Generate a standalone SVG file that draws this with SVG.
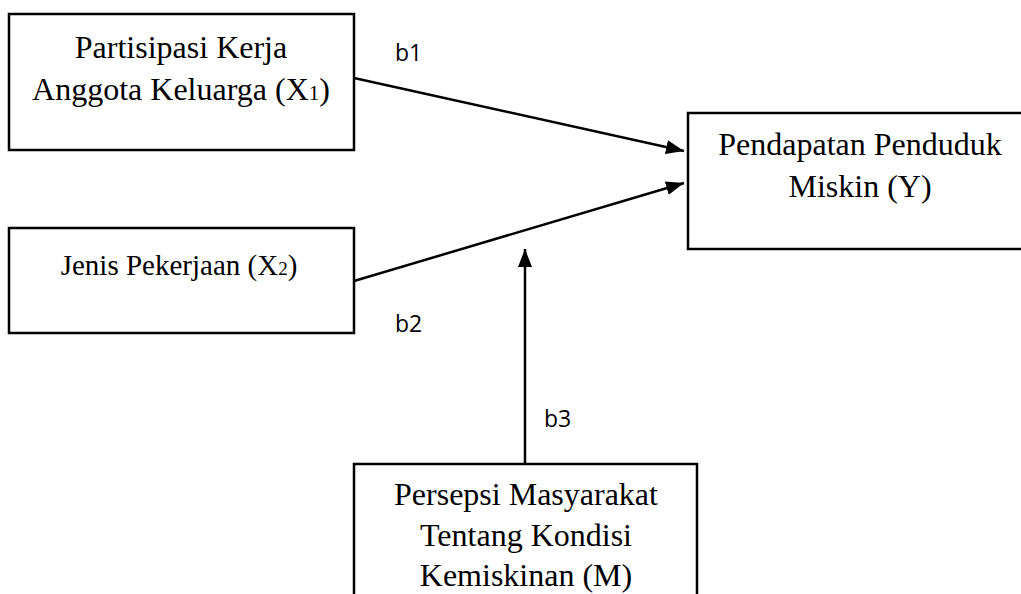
<svg xmlns="http://www.w3.org/2000/svg" width="1021" height="594" viewBox="0 0 1021 594">
<style>
.box{fill:#fff;stroke:#000;stroke-width:2.5}
.t{font-family:"Liberation Serif","Times New Roman",serif;font-size:32px;fill:#000;text-anchor:middle}
.t2{font-family:"Liberation Serif","Times New Roman",serif;font-size:29px;fill:#000;text-anchor:middle}
.lab{font-family:"Open Sans","DejaVu Sans",sans-serif;font-size:23px;fill:#000}
.c{stroke:#000;stroke-width:2.5;fill:none}
</style>
<defs>
<marker id="ah" markerWidth="18" markerHeight="14" refX="18" refY="7" orient="auto" markerUnits="userSpaceOnUse" viewBox="0 0 18 14">
<path d="M0,0 L18,7 L0,14 Z" fill="#000"/>
</marker>
</defs>
<g id="connectors">
<line class="c" x1="354" y1="78" x2="684" y2="151" marker-end="url(#ah)"/>
<line class="c" x1="354" y1="281" x2="684" y2="183" marker-end="url(#ah)"/>
<line class="c" x1="525" y1="464" x2="525" y2="249" marker-end="url(#ah)"/>
</g>
<g id="x1">
<rect class="box" x="9" y="14" width="345" height="136"/>
<text class="t" x="181" y="58">Partisipasi Kerja</text>
<text class="t" x="181" y="100">Anggota Keluarga (X<tspan font-size="21">1</tspan>)</text>
</g>
<g id="x2">
<rect class="box" x="9" y="228" width="345" height="105"/>
<text class="t2" x="179" y="275">Jenis Pekerjaan (X<tspan font-size="19">2</tspan>)</text>
</g>
<g id="y">
<rect class="box" x="688" y="113" width="345" height="136"/>
<text class="t" x="860" y="155">Pendapatan Penduduk</text>
<text class="t" x="860" y="197">Miskin (Y)</text>
</g>
<g id="m">
<rect class="box" x="354" y="464" width="343" height="150"/>
<text class="t" x="526" y="505">Persepsi Masyarakat</text>
<text class="t" x="526" y="546">Tentang Kondisi</text>
<text class="t" x="526" y="586">Kemiskinan (M)</text>
</g>
<g id="labels">
<text class="lab" x="395" y="61">b1</text>
<text class="lab" x="395" y="332">b2</text>
<text class="lab" x="544" y="427">b3</text>
</g>
</svg>
